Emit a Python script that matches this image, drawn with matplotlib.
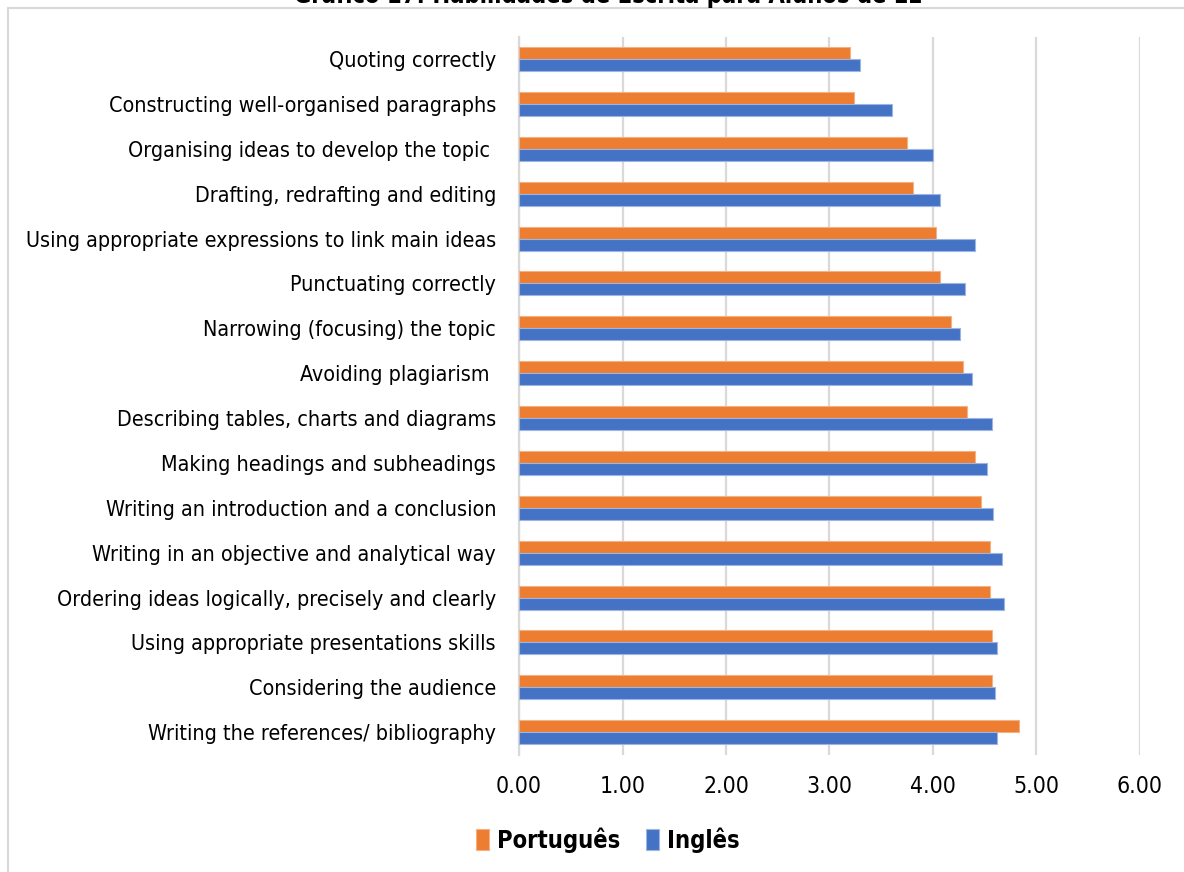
import matplotlib
matplotlib.use("Agg")
import matplotlib.pyplot as plt
from matplotlib.patches import Rectangle
from matplotlib.font_manager import FontProperties
import numpy as np

categories = [
    "Quoting correctly",
    "Constructing well-organised paragraphs",
    "Organising ideas to develop the topic ",
    "Drafting, redrafting and editing",
    "Using appropriate expressions to link main ideas",
    "Punctuating correctly",
    "Narrowing (focusing) the topic",
    "Avoiding plagiarism ",
    "Describing tables, charts and diagrams",
    "Making headings and subheadings",
    "Writing an introduction and a conclusion",
    "Writing in an objective and analytical way",
    "Ordering ideas logically, precisely and clearly",
    "Using appropriate presentations skills",
    "Considering the audience",
    "Writing the references/ bibliography",
]
portugues = [3.20, 3.24, 3.75, 3.81, 4.03, 4.07, 4.17, 4.29, 4.33, 4.41,
             4.46, 4.55, 4.55, 4.57, 4.57, 4.83]
ingles = [3.29, 3.60, 4.00, 4.07, 4.41, 4.31, 4.26, 4.38, 4.57, 4.52,
          4.58, 4.67, 4.69, 4.62, 4.60, 4.62]
series_names = ["Português", "Inglês"]
x_ticks = [0, 1, 2, 3, 4, 5, 6]
title = "Gráfico 17: Habilidades de Escrita para Alunos de L1"

ORANGE = "#ED7D31"
BLUE = "#4472C4"
GRID = "#D9D9D9"


def font(size, weight="normal"):
    return FontProperties(family="DejaVu Sans", stretch="condensed",
                          size=size, weight=weight)


W, H = 1184, 872
fig = plt.figure(figsize=(W / 100, H / 100), dpi=100)
fig.patch.set_facecolor("white")

# chart area frame
fig.patches.append(Rectangle((8 / W, -0.1), 1.2, 1 - 8 / H + 0.1,
                             transform=fig.transFigure, fill=False,
                             edgecolor="#D9D9D9", linewidth=1.5))

ax = fig.add_axes([519 / W, 1 - 754.6 / H, (1140 - 519) / W, (754.6 - 36.6) / H])

y = np.arange(len(categories))
h = 0.267
ax.barh(y - h / 2, portugues, height=h, color=ORANGE, edgecolor="#F4B183",
        linewidth=0.8, label=series_names[0], zorder=3)
ax.barh(y + h / 2, ingles, height=h, color=BLUE, edgecolor="#9DB5E0",
        linewidth=0.8, label=series_names[1], zorder=3)

ax.set_ylim(len(categories) - 0.5, -0.5)
ax.set_xlim(0, 6)
ax.set_xticks(x_ticks)
ax.set_xticklabels([f"{v:.2f}" for v in x_ticks], fontproperties=font(16.5))
ax.set_yticks(y)
ax.set_yticklabels(categories, fontproperties=font(15.4))
ax.tick_params(axis="both", length=0, colors="#000000")
ax.tick_params(axis="x", pad=15)
ax.tick_params(axis="y", pad=16.5)

ax.grid(axis="x", color=GRID, linewidth=1.6, zorder=0)
for s in ["top", "right", "bottom"]:
    ax.spines[s].set_visible(False)
ax.spines["left"].set_color(GRID)
ax.spines["left"].set_linewidth(1.6)

leg = fig.legend(loc="center", bbox_to_anchor=(608 / W, 1 - 840 / H),
                 ncol=2, frameon=False, handlelength=0.55, handleheight=1.0,
                 handletextpad=0.33, columnspacing=1.1,
                 prop=font(17, "bold"))

# title sits at the very top edge of the canvas
fig.text(608 / W, 1 - 3 / H, title, ha="center", va="baseline",
         fontproperties=font(17, "bold"))

fig.savefig("out.png", dpi=100)
